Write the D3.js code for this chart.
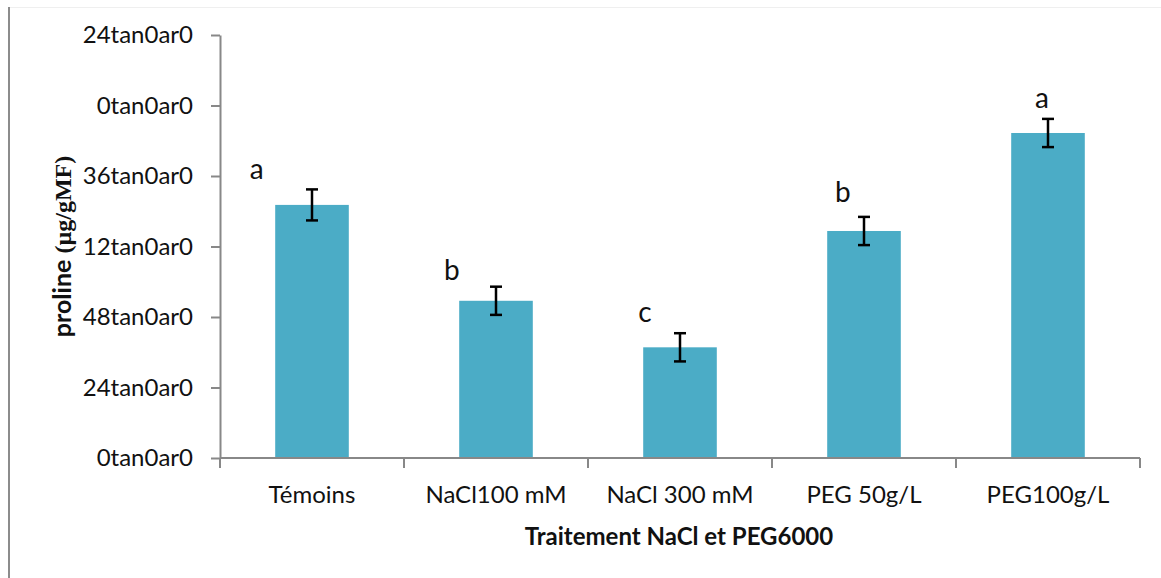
<!DOCTYPE html>
<html>
<head>
<meta charset="utf-8">
<script src="https://cdn.jsdelivr.net/npm/d3@7"></script>
<style>
  html, body { margin: 0; padding: 0; background: #fff; }
  svg { display: block; font-family: Lato, "Open Sans", sans-serif; }
</style>
</head>
<body>
<svg id="chart" width="1161" height="578"></svg>
<script>
// ---- data ----
const categories = ["Témoins", "NaCl100 mM", "NaCl 300 mM", "PEG 50g/L", "PEG100g/L"];
const values     = [3.59, 2.23, 1.57, 3.22, 4.61];
const errors     = [0.22, 0.20, 0.20, 0.20, 0.20];
const letters    = ["a", "b", "c", "b", "a"];
const yTickValues = [0, 1, 2, 3, 4, 5, 6];
const yTickLabels = ["0tan0ar0", "24tan0ar0", "48tan0ar0", "12tan0ar0", "36tan0ar0", "0tan0ar0", "24tan0ar0"];
const xTitle = "Traitement NaCl et PEG6000";
const yTitleSans = "proline ";
const yTitleSerif = "(µg/gMF)";

// ---- layout ----
const svg = d3.select("#chart");
const plotLeft = 220, plotRight = 1140, plotTop = 35, plotBottom = 458;
const axisColor = "#888888";
const barColor = "#4bacc6";

// outer frame
svg.append("line").attr("x1", 9).attr("x2", 1161).attr("y1", 7.5).attr("y2", 7.5)
  .attr("stroke", "#efefef").attr("stroke-width", 1);
svg.append("line").attr("x1", 9).attr("x2", 9).attr("y1", 7).attr("y2", 578)
  .attr("stroke", "#8c8c8c").attr("stroke-width", 2);

const x = d3.scaleBand().domain(categories).range([plotLeft, plotRight])
  .paddingInner(0.6).paddingOuter(0.3);
const y = d3.scaleLinear().domain([0, 6]).range([plotBottom, plotTop]);

// y axis
const yAxis = d3.axisLeft(y).tickValues(yTickValues)
  .tickFormat((d, i) => yTickLabels[i]).tickSize(9).tickSizeOuter(0).tickPadding(18);
const gy = svg.append("g").attr("transform", `translate(${plotLeft},0)`).call(yAxis);
gy.select(".domain").attr("stroke", axisColor).attr("stroke-width", 2);
gy.selectAll(".tick line").attr("stroke", axisColor).attr("stroke-width", 2);
gy.selectAll(".tick text").attr("font-size", 24).attr("fill", "#111")
  .attr("font-family", "Lato, sans-serif");

// bars
svg.append("g").selectAll("rect").data(categories).join("rect")
  .attr("x", d => x(d)).attr("width", x.bandwidth())
  .attr("y", (d, i) => y(values[i])).attr("height", (d, i) => y(0) - y(values[i]))
  .attr("fill", barColor);

// x axis
const step = x.step();
const boundaries = categories.map(c => x(c) - step * x.paddingOuter());
boundaries.push(x(categories[categories.length - 1]) + x.bandwidth() + step * x.paddingOuter());
const gx = svg.append("g");
gx.append("line").attr("x1", plotLeft).attr("x2", boundaries[boundaries.length - 1])
  .attr("y1", plotBottom).attr("y2", plotBottom).attr("stroke", axisColor).attr("stroke-width", 2);
gx.selectAll("line.tk").data(boundaries).join("line").attr("class", "tk")
  .attr("x1", d => d).attr("x2", d => d).attr("y1", plotBottom).attr("y2", plotBottom + 10)
  .attr("stroke", axisColor).attr("stroke-width", 2);
gx.selectAll("text").data(categories).join("text")
  .attr("x", d => x(d) + x.bandwidth() / 2).attr("y", 503)
  .attr("text-anchor", "middle").attr("font-size", 24).attr("fill", "#111")
  .text(d => d);

// error bars
const eb = svg.append("g").attr("stroke", "#000").attr("stroke-width", 2.5);
categories.forEach((c, i) => {
  const cx = x(c) + x.bandwidth() / 2;
  const y1 = y(values[i] + errors[i]), y2 = y(values[i] - errors[i]);
  eb.append("line").attr("x1", cx).attr("x2", cx).attr("y1", y1).attr("y2", y2);
  eb.append("line").attr("x1", cx - 6).attr("x2", cx + 6).attr("y1", y1).attr("y2", y1);
  eb.append("line").attr("x1", cx - 6).attr("x2", cx + 6).attr("y1", y2).attr("y2", y2);
});

// significance letters (manually placed text boxes in the original)
const letterDx = [-0.30, -0.24, -0.19, -0.115, -0.033];
const letterDy = [10, 7, 11, 15, 11];
svg.append("g").selectAll("text").data(letters).join("text")
  .attr("x", (d, i) => x(categories[i]) + x.bandwidth() / 2 + letterDx[i] * step)
  .attr("y", (d, i) => y(values[i] + errors[i]) - letterDy[i])
  .attr("text-anchor", "middle").attr("font-size", 28).attr("fill", "#111")
  .text(d => d);

// axis titles
svg.append("text").attr("x", (plotLeft + plotRight) / 2 - 1).attr("y", 545)
  .attr("text-anchor", "middle").attr("font-size", 24).attr("font-weight", "bold")
  .attr("fill", "#111").text(xTitle);

const yt = svg.append("text")
  .attr("transform", `translate(71,${(plotTop + plotBottom) / 2}) rotate(-90)`)
  .attr("text-anchor", "middle").attr("font-size", 25).attr("font-weight", "bold")
  .attr("fill", "#111");
yt.append("tspan").attr("font-family", "Lato, sans-serif").text(yTitleSans);
yt.append("tspan").attr("font-family", "'Liberation Serif', 'Times New Roman', serif")
  .attr("font-size", 24).text(yTitleSerif);
</script>
</body>
</html>
